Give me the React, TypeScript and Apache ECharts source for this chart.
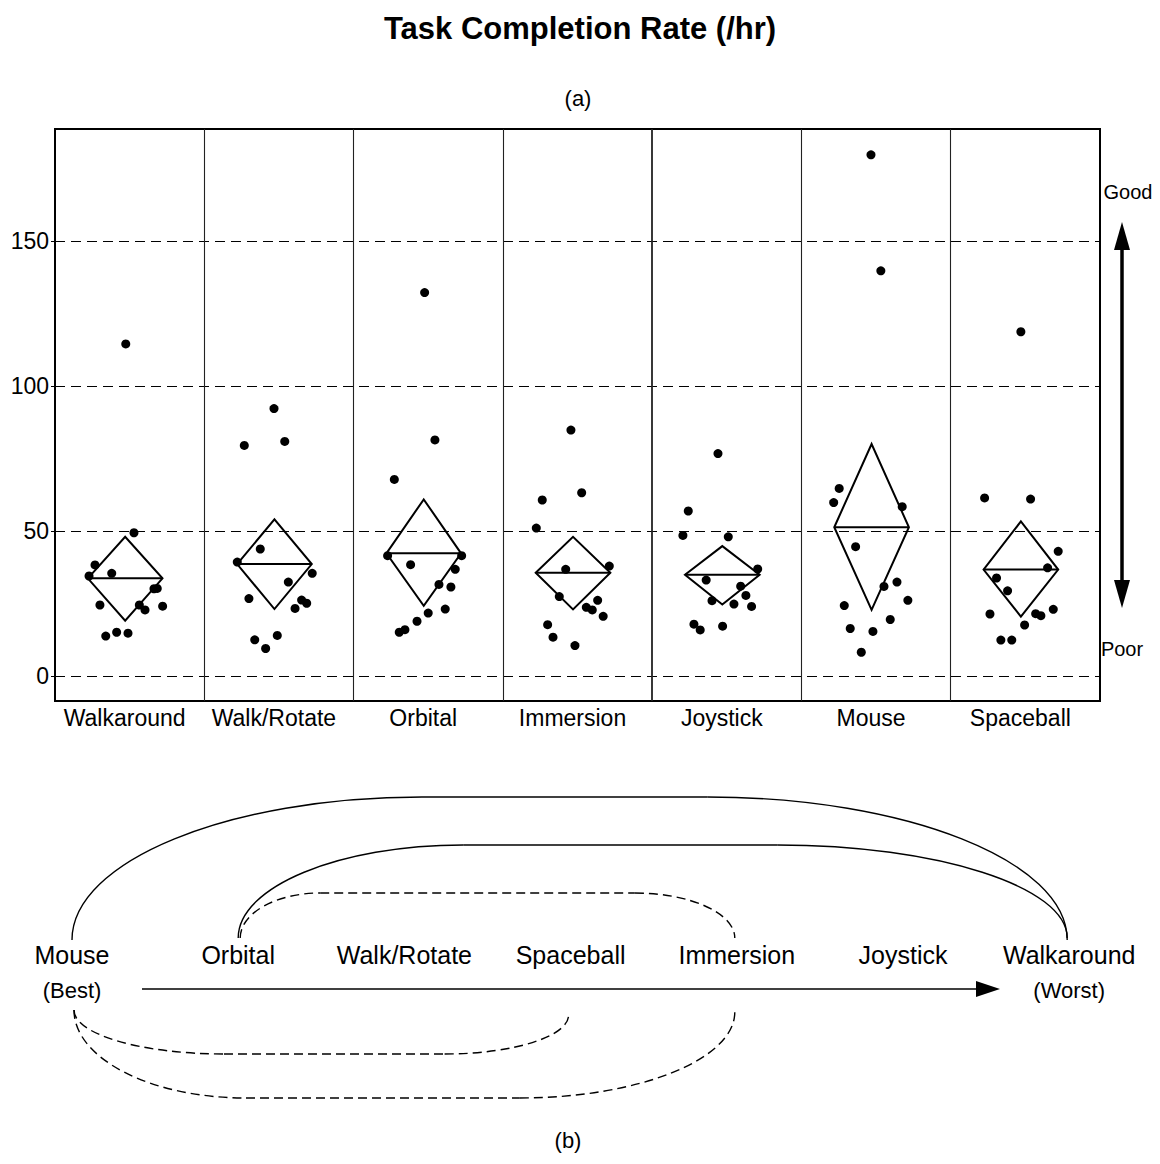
import React, { useEffect, useRef } from "react";
import * as echarts from "echarts";

// ---------- DATA ----------
const categories = ["Walkaround", "Walk/Rotate", "Orbital", "Immersion", "Joystick", "Mouse", "Spaceball"];
const yTicks = [0, 50, 100, 150];

// values (/hr) and horizontal jitter inside each column (0..1 of column width)
const walkaroundValues = [114.5, 49.4, 38.3, 34.5, 35.4, 30.1, 30.2, 24.5, 24.5, 22.8, 24.1, 13.8, 15.1, 14.8];
const walkaroundJitter = [0.474, 0.529, 0.268, 0.228, 0.38, 0.663, 0.685, 0.301, 0.565, 0.603, 0.721, 0.34, 0.413, 0.489];
const walkRotateValues = [92.2, 79.5, 80.9, 43.8, 39.3, 35.4, 32.4, 26.7, 26.2, 25.1, 23.3, 12.5, 14.0, 9.5];
const walkRotateJitter = [0.467, 0.268, 0.539, 0.375, 0.221, 0.723, 0.563, 0.299, 0.652, 0.686, 0.608, 0.338, 0.489, 0.411];
const orbitalValues = [132.2, 81.4, 67.8, 41.5, 41.5, 38.4, 36.8, 31.6, 30.7, 23.1, 21.7, 18.9, 16.0, 15.1];
const orbitalJitter = [0.476, 0.545, 0.273, 0.228, 0.724, 0.382, 0.681, 0.572, 0.652, 0.614, 0.5, 0.425, 0.344, 0.306];
const immersionValues = [84.8, 63.2, 60.7, 51.0, 37.9, 36.8, 27.4, 26.1, 23.7, 22.8, 20.6, 17.7, 13.4, 10.5];
const immersionJitter = [0.456, 0.528, 0.264, 0.224, 0.713, 0.421, 0.378, 0.635, 0.559, 0.599, 0.672, 0.3, 0.336, 0.483];
const joystickValues = [76.7, 56.9, 48.5, 48.0, 36.9, 33.1, 31.0, 27.8, 26.0, 24.8, 24.0, 17.9, 15.9, 17.2];
const joystickJitter = [0.441, 0.242, 0.206, 0.51, 0.707, 0.362, 0.593, 0.628, 0.401, 0.548, 0.666, 0.28, 0.322, 0.472];
const mouseValues = [179.7, 139.7, 64.7, 59.8, 58.4, 44.6, 32.4, 30.9, 26.1, 24.3, 19.5, 16.4, 15.4, 8.2];
const mouseJitter = [0.466, 0.532, 0.253, 0.216, 0.675, 0.363, 0.64, 0.553, 0.713, 0.287, 0.595, 0.327, 0.479, 0.401];
const spaceballValues = [118.7, 61.4, 61.0, 43.0, 37.3, 33.8, 29.4, 21.4, 21.5, 20.8, 23.0, 17.6, 12.4, 12.4];
const spaceballJitter = [0.47, 0.227, 0.535, 0.72, 0.649, 0.307, 0.381, 0.263, 0.569, 0.604, 0.687, 0.495, 0.336, 0.409];

// means diamonds (mean and 95% confidence limits)
const diamondMeans = [33.7, 38.6, 42.3, 35.6, 34.9, 51.3, 36.7];
const diamondUpper = [48.0, 54.0, 60.9, 48.0, 44.8, 80.0, 53.3];
const diamondLower = [19.1, 23.1, 24.2, 23.0, 24.7, 22.8, 20.5];

// (b) ranking, best to worst, and the pairs joined by arcs
const rankOrder = ["Mouse", "Orbital", "Walk/Rotate", "Spaceball", "Immersion", "Joystick", "Walkaround"];
const solidLinks = [[0, 6], [1, 6]];
const dashedLinks = [[1, 4], [0, 3], [0, 4]];

// ---------- COMPONENT ----------
const FONT = "'Liberation Sans', Arial, Helvetica, sans-serif";
const K = 0.5523;

function arcEls(x1: number, y1: number, x2: number, y2: number, yPeak: number, rxL: number, rxR: number, dashed: boolean) {
  const style: any = { stroke: "#000", lineWidth: 1.4, fill: null };
  if (dashed) style.lineDash = [9, 5];
  const els: any[] = [];
  els.push({
    type: "bezierCurve",
    shape: { x1, y1, x2: x1 + rxL, y2: yPeak, cpx1: x1, cpy1: y1 + K * (yPeak - y1), cpx2: x1 + rxL * (1 - K), cpy2: yPeak },
    style,
  });
  if (x2 - rxR > x1 + rxL) {
    els.push({ type: "line", shape: { x1: x1 + rxL, y1: yPeak, x2: x2 - rxR, y2: yPeak }, style });
  }
  els.push({
    type: "bezierCurve",
    shape: { x1: x2 - rxR, y1: yPeak, x2, y2, cpx1: x2 - rxR * (1 - K), cpy1: yPeak, cpx2: x2, cpy2: y2 + K * (yPeak - y2) },
    style,
  });
  return els;
}

export default function App() {
  const ref = useRef<HTMLDivElement>(null);

  useEffect(() => {
    if (!ref.current) return;
    const chart = echarts.init(ref.current, undefined, { renderer: "svg" });

    const columns = [
      [walkaroundValues, walkaroundJitter],
      [walkRotateValues, walkRotateJitter],
      [orbitalValues, orbitalJitter],
      [immersionValues, immersionJitter],
      [joystickValues, joystickJitter],
      [mouseValues, mouseJitter],
      [spaceballValues, spaceballJitter],
    ];
    const points: number[][] = [];
    columns.forEach(([vals, jit], i) => {
      vals.forEach((v, j) => points.push([i + jit[j], v]));
    });
    const diamonds = categories.map((_, i) => [i, diamondMeans[i], diamondLower[i], diamondUpper[i]]);

    const DC = 0.47;
    const DH = 0.25;

    // ----- annotations and part (b) graphics -----
    const RX0 = 72;
    const RDX = 166.2;
    const rx = (i: number) => RX0 + i * RDX;
    const graphics: any[] = [];
    const txt = (text: string, x: number, y: number, size: number) => ({
      type: "text", x, y,
      style: { text, font: `${size}px ${FONT}`, fill: "#000", textAlign: "center", textVerticalAlign: "middle" },
    });
    graphics.push(txt("(a)", 578, 98, 22));
    graphics.push(txt("(b)", 568, 1140, 22));
    // Good / Poor arrow
    graphics.push(txt("Good", 1128, 192, 20));
    graphics.push(txt("Poor", 1122, 649, 20));
    graphics.push({ type: "line", shape: { x1: 1122, y1: 240, x2: 1122, y2: 590 }, style: { stroke: "#000", lineWidth: 3.5 } });
    graphics.push({ type: "polygon", shape: { points: [[1122, 222], [1114, 250], [1130, 250]] }, style: { fill: "#000" } });
    graphics.push({ type: "polygon", shape: { points: [[1122, 608], [1114, 580], [1130, 580]] }, style: { fill: "#000" } });

    // rank labels
    rankOrder.forEach((name, i) => graphics.push(txt(name, rx(i), 955, 25)));
    graphics.push(txt("(Best)", rx(0), 990, 22));
    graphics.push(txt("(Worst)", rx(6), 990, 22));
    graphics.push({ type: "line", shape: { x1: 142, y1: 989, x2: 982, y2: 989 }, style: { stroke: "#000", lineWidth: 1.6 } });
    graphics.push({ type: "polygon", shape: { points: [[1000, 989], [976, 981], [976, 997]] }, style: { fill: "#000" } });

    // arcs: layout per link
    const solidLayout = [
      { y1: 940, y2: 940, peak: 797, rxL: 350, rxR: 360 },
      { y1: 938, y2: 938, peak: 845, rxL: 225, rxR: 290 },
    ];
    const dashedLayout = [
      { y1: 938, y2: 938, peak: 893, rxL: 80, rxR: 100 },
      { y1: 1010, y2: 1015, peak: 1054, rxL: 150, rxR: 124 },
      { y1: 1010, y2: 1012, peak: 1098, rxL: 172, rxR: 215 },
    ];
    solidLinks.forEach(([a, b], k) => {
      const l = solidLayout[k];
      graphics.push(...arcEls(rx(a), l.y1, rx(b) - 2, l.y2, l.peak, l.rxL, l.rxR, false));
    });
    dashedLinks.forEach(([a, b], k) => {
      const l = dashedLayout[k];
      graphics.push(...arcEls(rx(a) + 2, l.y1, rx(b) - 2, l.y2, l.peak, l.rxL, l.rxR, true));
    });

    const option: any = {
      animation: false,
      backgroundColor: "#fff",
      textStyle: { fontFamily: FONT },
      title: {
        text: "Task Completion Rate (/hr)",
        left: "center",
        top: 8,
        textStyle: { fontSize: 31, fontWeight: "bold", color: "#000", fontFamily: FONT },
      },
      grid: {
        left: 55, right: 60, top: 129, bottom: 463,
        show: true, borderColor: "#000", borderWidth: 2, backgroundColor: "transparent",
      },
      xAxis: [
        { type: "value", min: 0, max: 7, show: false },
        {
          type: "category", data: categories, boundaryGap: true, position: "bottom",
          axisLine: { show: false }, axisTick: { show: false }, splitLine: { show: false },
          axisLabel: { fontSize: 23, color: "#000", fontFamily: FONT, margin: 5, padding: [0, 10, 0, 0], interval: 0 },
        },
      ],
      yAxis: {
        type: "value", min: -8.6, max: 188.6,
        axisLine: { show: true, lineStyle: { color: "#000", width: 2 } },
        axisTick: { show: true, length: 4, customValues: yTicks, lineStyle: { color: "#000" } },
        axisLabel: { fontSize: 23, color: "#000", fontFamily: FONT, margin: 6, customValues: yTicks },
        splitLine: { show: false },
      },
      series: [
        {
          type: "scatter",
          xAxisIndex: 0,
          data: points,
          symbol: "circle",
          symbolSize: 9,
          itemStyle: { color: "#000", opacity: 1 },
          z: 5,
          markLine: {
            silent: true,
            symbol: "none",
            label: { show: false },
            animation: false,
            data: [
              ...yTicks.map((v) => ({ yAxis: v, lineStyle: { type: [10, 6], color: "#000", width: 1.1 } })),
              ...[1, 2, 3, 4, 5, 6].map((v) => ({ xAxis: v, lineStyle: { type: "solid", color: "#222", width: v === 4 ? 1.8 : 1.1 } })),
            ],
          },
        },
        {
          type: "custom",
          xAxisIndex: 0,
          data: diamonds,
          encode: { x: 0, y: [1, 2, 3] },
          z: 4,
          renderItem: (params: any, api: any) => {
            const i = api.value(0);
            const m = api.value(1);
            const lo = api.value(2);
            const hi = api.value(3);
            const c = i + DC;
            const L = api.coord([c - DH, m]);
            const R = api.coord([c + DH, m]);
            const T = api.coord([c, hi]);
            const B = api.coord([c, lo]);
            return {
              type: "group",
              children: [
                { type: "polygon", shape: { points: [L, T, R, B] }, style: { fill: "none", stroke: "#000", lineWidth: 2 } },
                { type: "line", shape: { x1: L[0], y1: L[1], x2: R[0], y2: R[1] }, style: { stroke: "#000", lineWidth: 2 } },
              ],
            };
          },
        },
      ],
      graphic: { elements: graphics },
    };

    chart.setOption(option);
    return () => chart.dispose();
  }, []);

  return (
    <div
      ref={ref}
      style={{ position: "fixed", left: 0, top: 0, width: 1160, height: 1164, background: "#fff" }}
    />
  );
}
